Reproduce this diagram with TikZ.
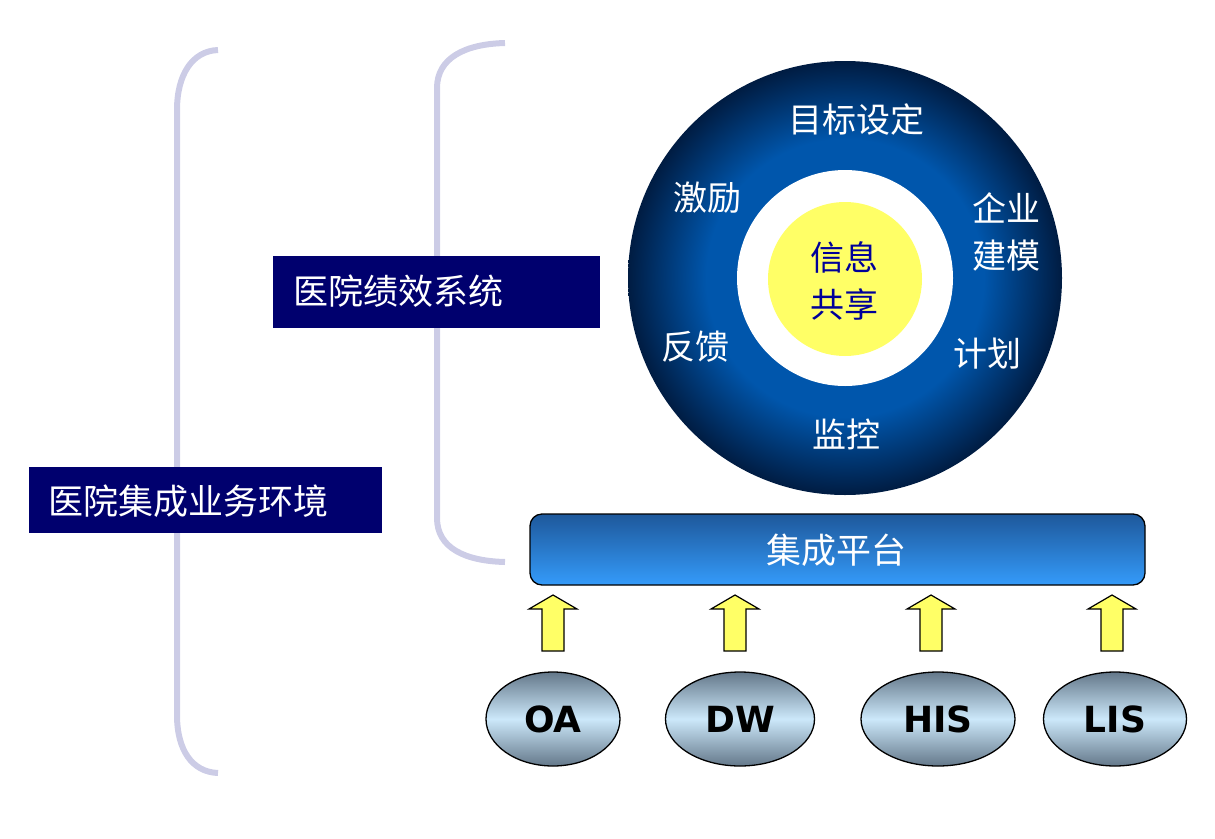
\documentclass[tikz,border=0pt]{standalone}
\usepackage{fontspec}
\newfontfamily\cjk{Noto Sans CJK SC}
\newfontfamily\lat{DejaVu Sans}
\usetikzlibrary{shapes.geometric}
\definecolor{brk}{RGB}{204,204,230}
\definecolor{navy}{RGB}{0,0,110}
\definecolor{yel}{RGB}{255,255,102}
\definecolor{txtblue}{RGB}{0,0,153}
\definecolor{discA}{RGB}{0,86,172}
\definecolor{discB}{RGB}{0,28,66}
\definecolor{barTop}{RGB}{30,88,155}
\definecolor{barBot}{RGB}{52,155,250}
\definecolor{ellEdge}{RGB}{100,120,138}
\definecolor{ellMid}{RGB}{204,232,250}
\pgfdeclareradialshading{discshade}{\pgfpoint{0bp}{0bp}}{color(0bp)=(discA); color(16bp)=(discA); color(25bp)=(discB); color(50bp)=(discB)}
\tikzset{
  bracket/.style={draw=brk, line width=6pt, line cap=butt},
  labelbox/.style={fill=navy, text=white, font=\cjk\fontsize{35}{40}\selectfont, anchor=west, inner sep=0pt},
  disctext/.style={text=white, font=\cjk\fontsize{34}{47}\selectfont, align=center, inner sep=0pt},
  uparrow/.style={fill=yel, draw=black, line width=1.2pt, line join=miter},
  sysell/.style={ellipse, draw=black, line width=1.3pt, top color=ellEdge, bottom color=ellEdge, middle color=ellMid, font=\lat\bfseries\fontsize{36}{40}\selectfont, inner sep=0pt},
}
\begin{document}
\begin{tikzpicture}[x=1pt,y=-1pt]
\useasboundingbox (0,0) rectangle (1215,838);
% brackets
\draw[bracket] (218,50) .. controls (192,51) and (177,75) .. (177,110) -- (177,715) .. controls (177,750) and (192,772) .. (218,773);
\draw[bracket] (505,43) .. controls (465,44) and (437,58) .. (437,88) -- (437,518) .. controls (437,548) and (465,561) .. (505,562);
% label boxes
\fill[navy] (273,256) rectangle (600,328);
\node[labelbox] (perf) at (293,291) {医院绩效系统};
\fill[navy] (29,467) rectangle (382,533);
\node[labelbox] (env) at (48,501) {医院集成业务环境};
% disc
\shade[shading=discshade] (845,278) circle (217);
\fill[white] (845,278) circle (108);
\fill[yel] (845,279) circle (77);
\node[disctext, text=txtblue] (info) at (844,281) {信息\\共享};
\node[disctext] (goal) at (856,120) {目标设定};
\node[disctext] (incent) at (707,198) {激励};
\node[disctext] (model) at (1006,232) {企业\\建模};
\node[disctext] (feed) at (695,347) {反馈};
\node[disctext] (plan) at (987,354) {计划};
\node[disctext] (mon) at (846,434) {监控};
% platform bar
\draw[black, line width=1.3pt, rounded corners=12pt, top color=barTop, bottom color=barBot] (530,514) rectangle (1145,585);
\node[text=white, font=\cjk\fontsize{35}{40}\selectfont, inner sep=0pt] (plat) at (836,550) {集成平台};
% systems
\node[sysell, minimum width=134pt, minimum height=94pt] (oa) at (553,719) {OA};
\node[sysell, minimum width=149pt, minimum height=94pt] (dw) at (740,719) {DW};
\node[sysell, minimum width=154pt, minimum height=94pt] (his) at (938,719) {HIS};
\node[sysell, minimum width=143pt, minimum height=94pt] (lis) at (1115,719) {LIS};
% arrows
\foreach \c in {553,735,931,1112}{
  \draw[uparrow] (\c-11,651) -- (\c-11,609) -- (\c-24,609) -- (\c,595) -- (\c+24,609) -- (\c+11,609) -- (\c+11,651) -- cycle;
}
\end{tikzpicture}
\end{document}
